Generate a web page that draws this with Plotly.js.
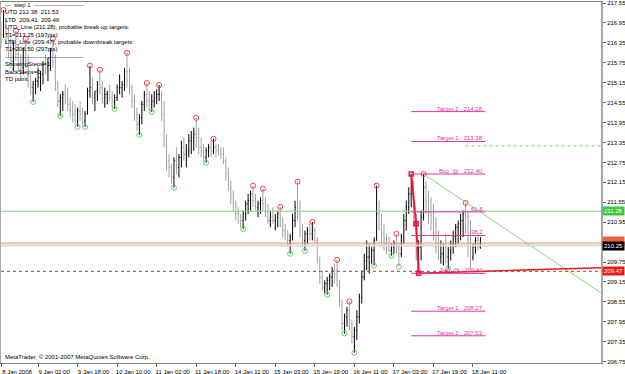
<!DOCTYPE html>
<html>
<head>
<meta charset="utf-8">
<script src="https://cdn.plot.ly/plotly-3.0.1.min.js"></script>
<style>html,body{margin:0;padding:0;background:#fff;}#chart{width:625px;height:374px;}</style>
</head>
<body>
<div id="chart"></div>
<script>
// ---- hourly OHLC bars (8-18 Jan 2008) ----
const open = [216.8,216.6,216.9,216.5,216.1,215.8,216.2,216.0,215.7,215.6,216.1,215.8,215.2,215.0,215.1,215.2,215.3,215.4,215.7,215.6,
215.9,216.1,215.8,215.1,214.6,214.7,214.8,214.7,214.5,214.3,214.2,214.0,214.3,214.2,214.0,214.2,214.9,215.0,214.7,214.9,
215.1,215.0,214.7,214.8,214.8,214.7,214.6,214.7,215.0,215.0,215.1,215.5,215.2,215.0,214.6,214.2,213.9,214.1,214.5,214.8,
214.6,214.5,214.6,214.7,214.8,214.8,214.2,213.5,212.8,212.6,212.3,212.8,212.6,212.9,213.2,213.0,213.1,213.4,213.5,213.6,
213.5,213.2,213.1,212.9,213.1,213.2,213.1,213.2,213.1,213.1,213.0,212.8,212.4,212.0,211.7,211.5,211.2,211.0,211.0,211.2,
211.5,211.6,211.8,211.6,211.4,211.5,211.6,211.5,211.3,211.0,211.1,211.0,211.1,211.2,211.0,210.7,210.5,210.4,210.5,211.0,
211.4,211.2,210.7,210.4,210.6,210.7,210.6,210.7,210.4,209.9,209.3,209.0,209.1,209.2,209.3,209.5,209.4,209.2,208.6,207.9,
208.1,208.3,207.9,207.5,207.7,208.1,208.7,209.3,209.8,209.9,209.9,210.1,210.4,211.2,210.9,210.6,210.3,210.2,210.1,210.2,
210.3,210.2,210.0,210.5,211.0,211.4,211.8,212.0,211.0,210.0,210.2,211.1,212.0,211.6,211.2,211.0,210.6,210.2,209.9,210.0,
210.2,209.9,210.1,210.3,210.5,210.8,210.9,211.0,211.2,211.1,210.3,209.9,210.2,210.4,210.2];
const high = [217.0,217.34,217.1,216.8,216.5,216.4,216.71,216.3,216.0,216.2,216.47,216.0,215.4,215.2,215.3,215.6,215.5,215.8,216.0,215.9,
216.2,216.47,216.0,215.2,214.8,214.9,215.1,215.0,214.7,214.6,214.5,214.4,214.6,214.4,214.3,215.0,215.66,215.3,214.9,215.2,
215.54,215.2,215.0,214.9,215.1,214.9,214.8,215.1,215.4,215.2,215.6,216.05,215.6,215.1,214.8,214.4,214.2,214.6,214.9,215.14,
214.9,214.8,214.9,214.95,215.08,214.9,214.6,213.6,213.0,212.7,212.9,213.2,213.0,213.4,213.5,213.3,213.6,213.7,213.8,214.09,
213.8,213.5,213.3,213.2,213.3,213.4,213.46,213.3,213.3,213.2,213.2,212.9,212.6,212.2,211.9,211.6,211.4,211.2,211.3,211.6,
211.8,211.9,212.05,211.8,211.6,211.7,211.96,211.7,211.5,211.3,211.4,211.2,211.3,211.41,211.1,210.9,210.7,210.6,211.2,211.6,
212.17,211.6,210.9,210.7,210.8,210.9,210.96,210.8,210.5,209.9,209.5,209.2,209.3,209.4,209.6,209.7,209.82,209.2,208.6,208.2,
208.4,208.56,208.0,207.8,208.3,208.8,209.5,210.0,210.4,210.3,210.2,210.5,212.05,211.6,211.2,210.9,210.6,210.5,210.3,210.4,
210.60,210.3,210.6,211.2,211.6,212.0,212.40,212.2,211.2,210.4,211.3,212.40,212.2,211.9,211.7,211.5,211.1,210.7,210.4,210.3,
210.6,210.2,210.4,210.7,210.9,211.0,211.2,211.3,211.53,211.3,211.0,210.3,210.5,210.6,210.5];
const low = [216.2,216.5,216.3,215.9,215.6,215.5,215.8,215.5,215.2,215.4,215.6,215.0,214.8,214.57,214.8,215.0,214.9,215.1,215.4,215.2,
215.5,215.6,214.9,214.4,214.15,214.3,214.5,214.3,214.1,213.95,213.9,213.82,214.0,213.9,213.82,214.2,214.7,214.5,214.3,214.6,
214.8,214.5,214.4,214.5,214.6,214.4,214.36,214.6,214.8,214.7,214.9,215.0,214.8,214.4,214.0,213.7,213.58,213.9,214.3,214.4,
214.3,214.27,214.4,214.5,214.6,214.0,213.2,212.5,212.3,212.1,211.99,212.4,212.3,212.6,212.8,212.6,212.9,213.0,213.1,213.2,
213.0,212.9,212.8,212.74,212.9,212.9,213.0,212.9,212.95,212.85,212.7,212.2,211.9,211.5,211.3,211.0,210.9,210.8,210.75,211.0,
211.2,211.3,211.4,211.3,211.1,211.2,211.3,211.1,210.9,210.8,210.9,210.7,210.8,210.8,210.5,210.4,210.2,210.0,210.4,210.8,
211.0,210.5,210.2,210.09,210.3,210.4,210.4,210.3,209.7,209.1,208.9,208.8,208.77,208.9,209.0,209.1,209.0,208.4,207.7,207.60,
207.8,207.7,207.3,207.02,207.4,207.9,208.5,209.2,209.5,209.4,209.7,209.64,210.4,210.7,210.3,210.1,210.0,210.05,209.94,210.0,
210.0,209.61,209.9,210.3,210.7,211.2,211.4,210.8,209.8,209.41,209.8,211.0,211.2,210.9,210.7,210.4,210.0,209.8,209.7,209.65,
209.7,209.55,209.8,210.0,210.2,210.3,210.4,210.5,210.6,209.9,209.55,209.8,210.0,210.1,210.15];
const close = [216.4,216.9,216.5,216.1,215.8,216.2,216.0,215.7,215.6,216.1,215.8,215.2,215.0,215.1,215.2,215.3,215.4,215.7,215.6,215.9,
216.1,215.8,215.1,214.6,214.7,214.8,214.7,214.5,214.3,214.2,214.0,214.3,214.2,214.0,214.2,214.9,215.0,214.7,214.9,215.1,
215.0,214.7,214.8,214.8,214.7,214.6,214.7,215.0,215.0,215.1,215.5,215.2,215.0,214.6,214.2,213.9,214.1,214.5,214.8,214.6,
214.5,214.6,214.7,214.8,214.8,214.2,213.5,212.8,212.6,212.3,212.8,212.6,212.9,213.2,213.0,213.1,213.4,213.5,213.6,213.5,
213.2,213.1,212.9,213.1,213.2,213.1,213.2,213.1,213.1,213.0,212.8,212.4,212.0,211.7,211.5,211.2,211.0,211.0,211.2,211.5,
211.6,211.8,211.6,211.4,211.5,211.6,211.5,211.3,211.0,211.1,211.0,211.1,211.2,211.0,210.7,210.5,210.4,210.5,211.0,211.4,
211.2,210.7,210.4,210.6,210.7,210.6,210.7,210.4,209.9,209.3,209.0,209.1,209.2,209.3,209.5,209.4,209.2,208.6,207.9,208.1,
208.3,207.9,207.5,207.7,208.1,208.7,209.3,209.8,209.9,209.9,210.1,210.4,211.2,210.9,210.6,210.3,210.2,210.1,210.2,210.3,
210.2,210.0,210.5,211.0,211.4,211.8,212.0,211.0,210.0,210.2,211.1,212.0,211.6,211.2,211.0,210.6,210.2,209.9,210.0,210.2,
209.9,210.1,210.3,210.5,210.8,210.9,211.0,211.2,211.1,210.3,209.9,210.2,210.4,210.2,210.25];

// TD points (bar indices)
const tdHighIdx = [1,6,10,21,36,40,51,59,64,79,86,102,106,113,120,126,136,141,152,160,171,188];
const tdLowIdx  = [13,24,31,34,46,56,61,70,83,98,117,123,132,139,143,151,158,161,169,181];

// time axis labels
const xTickIdx  = [0,15,31,47,63,79,95,111,127,143,159,175,191];
const xTickText = ["8 Jan 2008","9 Jan 02:00","9 Jan 18:00","10 Jan 10:00","11 Jan 02:00","11 Jan 18:00","14 Jan 11:00","15 Jan 03:00","15 Jan 19:00","16 Jan 11:00","17 Jan 03:00","17 Jan 19:00","18 Jan 11:00"];
const yTickVals = [206.75,207.35,207.95,208.55,209.15,209.75,210.35,210.95,211.55,212.15,212.75,213.35,213.95,214.55,215.15,215.75,216.35,216.95,217.55];
const yTickHidden = [210.35]; // covered by the price boxes in the original

// levels
const utdLevel = 211.28, ltdLevel = 209.47, askLevel = 210.32, bidLevel = 210.25, t1UpLevel = 213.25;
const t1UpStartIdx = 188;
const fibNames  = ["Target 2","Target 1","Buy  @","61.8","38.2","Sell  @","Target 1","Target 2"];
const fibLevels = [214.28,213.38,212.40,211.26,210.55,209.41,208.27,207.53];
const fibShowPrice = [true,true,true,false,false,true,true,true];
const fibStartIdx = 166, fibEndIdx = 196;
// swing leg (high -> low)
const legIdx = [166,168,169], legPrice = [212.40,210.90,209.41];
// trend lines
const upTrendIdx = [169,242.8], upTrendPrice = [209.41,209.58];
const downTrendIdx = [171,242.8], downTrendPrice = [212.40,208.82];

const infoLines = ["---  step 1  -------------------------","UTD 212.38  211.53","LTD  209.41  209.46",
"UTD_Line (211.28), probable break-up targets:","T1=213.25 (197pts)","LTD_Line (209.47), probable downbreak targets:",
"T1=206.50 (297pts)","---------------------------------------","ShowingSteps=1","BackSteps=0","TD point"];

const idx = open.map((_, i) => i);
const FONT = "Liberation Sans, Arial, sans-serif";
const PINK = "#e0359f";
const nb = s => s.replace(/ /g, "\u00a0");

const traces = [
  {type:"ohlc", x:idx, open, high, low, close, tickwidth:0.3, hoverinfo:"skip",
   increasing:{line:{color:"#000000", width:1}}, decreasing:{line:{color:"#a0a0a0", width:1}}},
  {type:"scatter", mode:"markers", x:tdHighIdx, y:tdHighIdx.map(i => high[i]), hoverinfo:"skip",
   marker:{symbol:"circle-open", size:5, color:"#ff3b3b", line:{width:1}}},
  {type:"scatter", mode:"markers", x:tdLowIdx, y:tdLowIdx.map(i => low[i]), hoverinfo:"skip",
   marker:{symbol:"circle-open", size:5, color:"#5fcf5f", line:{width:1}}},
  {type:"scatter", mode:"lines", x:downTrendIdx, y:downTrendPrice, hoverinfo:"skip", line:{color:"#7fd87f", width:1}},
  {type:"scatter", mode:"lines", x:upTrendIdx, y:upTrendPrice, hoverinfo:"skip", line:{color:"#f01818", width:1.5}},
  {type:"scatter", mode:"lines+markers", x:legIdx, y:legPrice, hoverinfo:"skip",
   line:{color:"#e8163a", width:2}, marker:{symbol:"square-open", size:4, color:"#e8163a", line:{width:1.5}}}
];

const shapes = [
  {type:"line", xref:"paper", x0:0, x1:1, yref:"y", y0:utdLevel, y1:utdLevel, line:{color:"#86cf86", width:1}},
  {type:"line", xref:"paper", x0:0, x1:1, yref:"y", y0:bidLevel, y1:bidLevel, line:{color:"#d8d8d8", width:2}},
  {type:"line", xref:"paper", x0:0, x1:1, yref:"y", y0:askLevel, y1:askLevel, line:{color:"#f08a6a", width:1}},
  {type:"line", xref:"paper", x0:0, x1:1, yref:"y", y0:ltdLevel, y1:ltdLevel, line:{color:"#b03a3a", width:1, dash:"dot"}},
  {type:"line", xref:"x", x0:t1UpStartIdx, x1:242.8, yref:"y", y0:t1UpLevel, y1:t1UpLevel, line:{color:"#66dd66", width:1, dash:"dot"}}
];
fibLevels.forEach(v => shapes.push({type:"line", xref:"x", x0:fibStartIdx, x1:fibEndIdx, yref:"y", y0:v, y1:v, line:{color:PINK, width:1}}));

const annotations = [];
fibLevels.forEach((v, k) => annotations.push({
  xref:"x", x:fibEndIdx, xanchor:"right", yref:"y", y:v, yanchor:"bottom", yshift:-2, showarrow:false,
  text: nb(fibShowPrice[k] ? fibNames[k] + "   " + v.toFixed(2) : fibNames[k]),
  font:{family:FONT, size:6, color:PINK}
}));
const TOP = 2, H = 361;
infoLines.forEach((t, k) => annotations.push({
  xref:"paper", x:2/600, xanchor:"left", yref:"paper", y:1 - ((5 + k*7.4) - TOP)/H, yanchor:"middle",
  showarrow:false, text:nb(t), font:{family:FONT, size:6, color:"#000"}
}));
annotations.push({xref:"paper", x:2/600, xanchor:"left", yref:"paper", y:1 - (357 - TOP)/H, yanchor:"middle",
  showarrow:false, text:"MetaTrader, © 2001-2007 MetaQuotes Software Corp.", font:{family:FONT, size:6, color:"#000"}});
// price boxes on the right axis
[[utdLevel,"#3cc83c","#ffffff",0],[askLevel,"#f0603c","#f0603c",2],[bidLevel,"#000000","#ffffff",-1],[ltdLevel,"#f01818","#ffffff",0]].forEach(([v,bg,fc,ys]) =>
  annotations.push({xref:"paper", x:1, xanchor:"left", xshift:1, yref:"y", y:v, yanchor:"middle", yshift:ys, showarrow:false,
    text:v.toFixed(2), bgcolor:bg, borderpad:1, font:{family:FONT, size:6, color:fc}}));

const layout = {
  width:625, height:374, margin:{l:1, r:24, t:2, b:11},
  paper_bgcolor:"#ffffff", plot_bgcolor:"#ffffff", showlegend:false,
  font:{family:FONT, size:6, color:"#000"},
  xaxis:{range:[0,242.8], rangeslider:{visible:false}, showgrid:false, zeroline:false,
    tickmode:"array", tickvals:xTickIdx, ticktext:xTickText, ticks:"outside", ticklen:3, tickcolor:"#606060",
    ticklabelshift:16, tickfont:{family:FONT, size:6, color:"#000"},
    showline:true, linecolor:"#808080", linewidth:1, mirror:true},
  yaxis:{range:[206.71,217.58], side:"right", showgrid:false, zeroline:false,
    tickmode:"array", tickvals:yTickVals, ticktext:yTickVals.map(v => yTickHidden.includes(v) ? "" : v.toFixed(2)),
    ticks:"outside", ticklen:3, tickcolor:"#606060", tickfont:{family:FONT, size:6, color:"#000"},
    showline:true, linecolor:"#a8a8a8", linewidth:2, mirror:true},
  shapes, annotations
};
Plotly.newPlot("chart", traces, layout, {displayModeBar:false, staticPlot:true});
</script>
</body>
</html>
